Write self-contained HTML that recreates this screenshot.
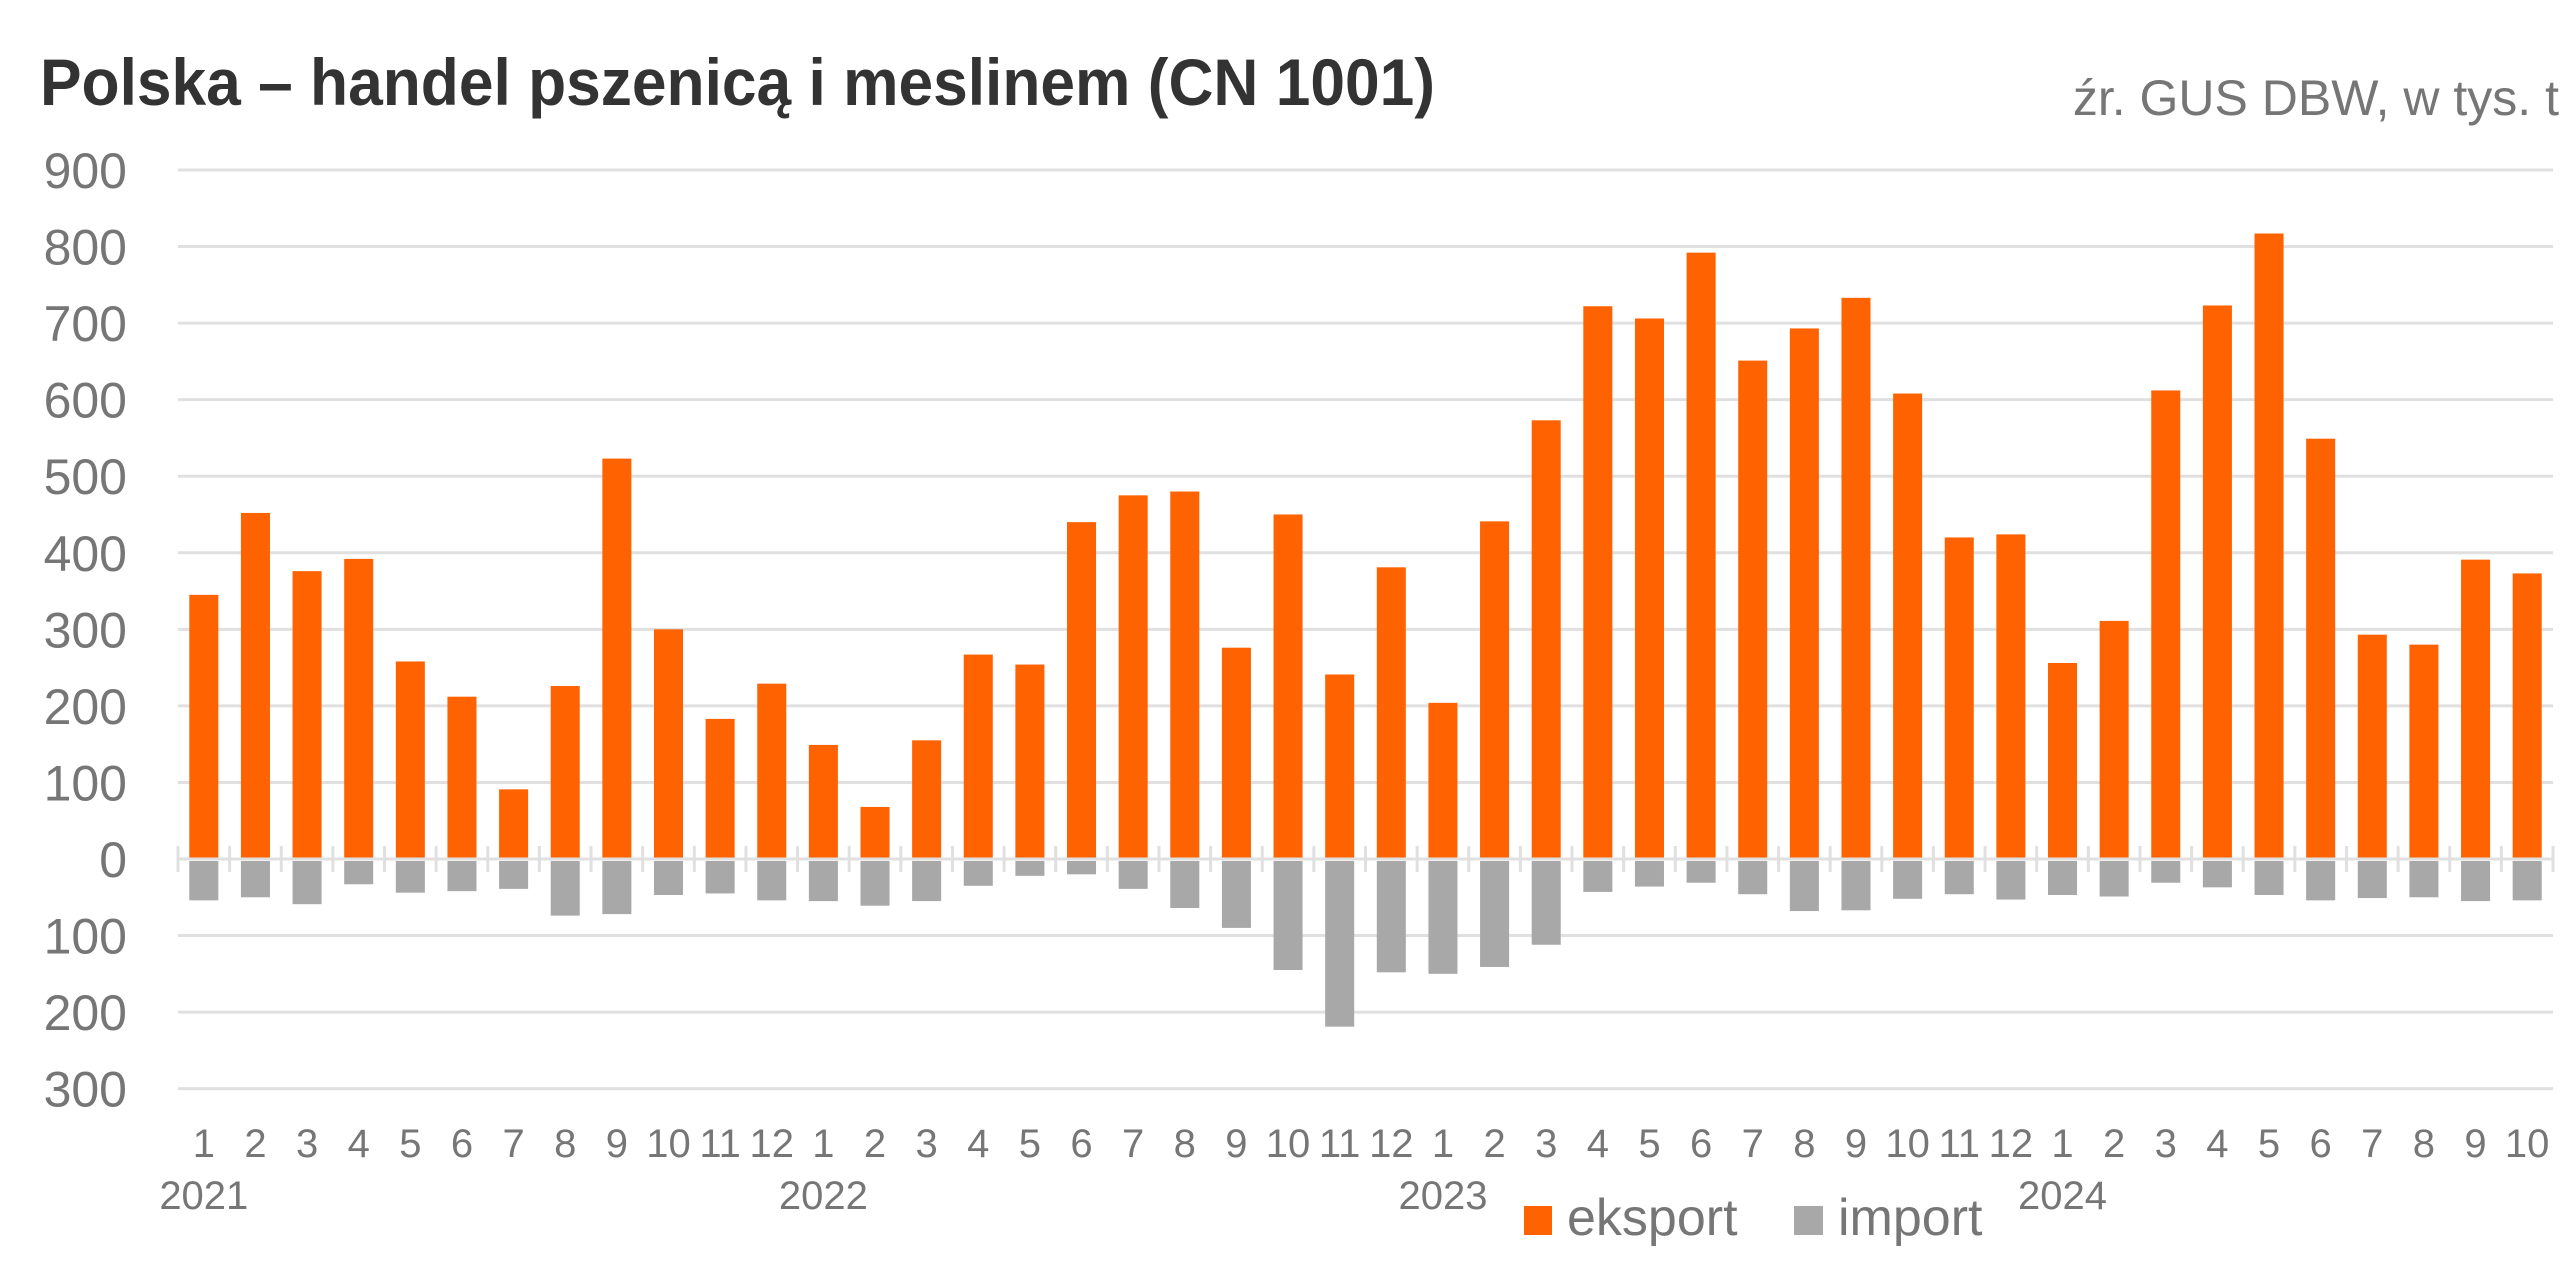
<!DOCTYPE html>
<html><head><meta charset="utf-8"><style>
html,body{margin:0;padding:0;background:#fff;}
svg{display:block;}
</style></head><body>
<svg width="2576" height="1273" viewBox="0 0 2576 1273" xmlns="http://www.w3.org/2000/svg">
<rect width="2576" height="1273" fill="#fff"/>
<text x="40" y="105" font-family="Liberation Sans, sans-serif" font-weight="bold" font-size="66" fill="#333" textLength="1395" lengthAdjust="spacingAndGlyphs">Polska – handel pszenicą i meslinem (CN 1001)</text>
<text x="2559" y="115" text-anchor="end" font-family="Liberation Sans Narrow, Liberation Sans, sans-serif" font-size="50" fill="#767676">źr. GUS DBW, w tys. t</text>
<g id="grid" stroke="#e0e0e0" stroke-width="3"></g>
<g id="bars"></g>
<g id="labels" font-family="Liberation Sans Narrow, Liberation Sans, sans-serif" fill="#767676"></g>
<rect x="1524" y="1206" width="28" height="29" fill="#ff6200"/>
<text x="1567" y="1235" font-family="Liberation Sans Narrow, Liberation Sans, sans-serif" font-size="52" fill="#767676">eksport</text>
<rect x="1794" y="1206" width="29" height="29" fill="#a8a8a8"/>
<text x="1838" y="1235" font-family="Liberation Sans Narrow, Liberation Sans, sans-serif" font-size="52" fill="#767676">import</text>
</svg>
<script>
var NS="http://www.w3.org/2000/svg";
function el(p,t,a,txt){var e=document.createElementNS(NS,t);for(var k in a)e.setAttribute(k,a[k]);if(txt!==undefined)e.textContent=txt;p.appendChild(e);return e;}
var exp=[345,452,376,392,258,212,91,226,523,300,183,229,149,68,155,267,254,440,475,480,276,450,241,381,204,441,573,722,706,792,651,693,733,608,420,424,256,311,612,723,817,549,293,280,391,373];
var imp=[54,50,59,33,44,42,39,74,72,47,45,54,55,61,55,35,22,20,39,64,90,145,219,148,150,141,112,43,36,31,46,68,67,52,46,53,47,49,31,37,47,54,51,50,55,54];
var L=178,R=2553,Z=859,S=0.7656,N=46,W=(R-L)/N;
var g=document.getElementById('grid'),b=document.getElementById('bars'),lb=document.getElementById('labels');
for(var v=-300;v<=900;v+=100){var y=Z-v*S;
 if(v!==0)el(g,'line',{x1:L,x2:R,y1:y,y2:y});
 el(lb,'text',{x:127,y:y+18,'text-anchor':'end','font-size':50},String(Math.abs(v)));}
for(var i=0;i<N;i++){var x=L+i*W+11.3,bw=W-22.6;
 el(b,'rect',{x:x,y:Z-exp[i]*S,width:bw,height:exp[i]*S-1.5,fill:'#ff6200'});
 el(b,'rect',{x:x,y:Z+2,width:bw,height:imp[i]*S-2,fill:'#a8a8a8'});
 var m=(i%12)+1;
 el(lb,'text',{x:L+(i+0.5)*W,y:1157,'text-anchor':'middle','font-size':40},String(m));
 if(m===1)el(lb,'text',{x:L+(i+0.5)*W,y:1209,'text-anchor':'middle','font-size':40},String(2021+i/12));}
el(g,'line',{x1:L,x2:R,y1:Z,y2:Z});
for(var i=0;i<=N;i++){var x=L+i*W;el(g,'line',{x1:x,x2:x,y1:846,y2:872});}
</script>
</body></html>
